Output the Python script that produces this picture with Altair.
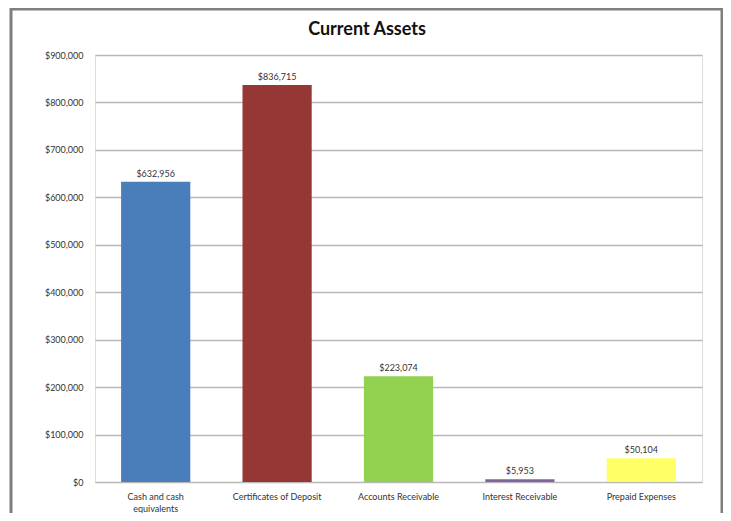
import altair as alt
import pandas as pd

title_text = "Current Assets"
categories = ["Cash and cash equivalents", "Certificates of Deposit", "Accounts Receivable",
              "Interest Receivable", "Prepaid Expenses"]
values = [632956, 836715, 223074, 5953, 50104]
colors = ["#4A7EBB", "#953735", "#92D050", "#8064A2", "#FFFF66"]
y_ticks = [0, 100000, 200000, 300000, 400000, 500000, 600000, 700000, 800000, 900000]

df = pd.DataFrame({"category": categories, "value": values})
df["label"] = df["value"].map(lambda v: "${:,}".format(v))

FONT = "Lato"

x_enc = alt.X("category:N", sort=categories, title=None,
              scale=alt.Scale(paddingInner=0.43, paddingOuter=0.215),
              axis=alt.Axis(labelAngle=0, ticks=False, domain=False, labelPadding=10,
                            labelFontSize=9, labelColor="#333333", labelFont=FONT,
                            labelLimit=200, labelLineHeight=12,
                            labelExpr="datum.label == 'Cash and cash equivalents' ? ['Cash and cash', 'equivalents'] : datum.label"))
y_enc = alt.Y("value:Q", title=None,
              scale=alt.Scale(domain=[0, 900000], nice=False),
              axis=alt.Axis(values=y_ticks, format="$,.0f", ticks=False, domain=False,
                            labelPadding=12, labelFontSize=9, labelColor="#333333",
                            labelFont=FONT, gridColor="#B8B8B8", gridWidth=1.6))

bars = alt.Chart(df).mark_bar().encode(
    x=x_enc,
    y=y_enc,
    color=alt.Color("category:N", sort=categories,
                    scale=alt.Scale(domain=categories, range=colors), legend=None),
)

text = alt.Chart(df).mark_text(dy=-8, fontSize=9, font=FONT, color="#333333").encode(
    x=alt.X("category:N", sort=categories),
    y="value:Q",
    text="label:N",
)

frame = alt.Chart(pd.DataFrame({"a": [0]})).mark_rect(
    fill=None, stroke="#7F7F7F", strokeWidth=3, clip=False
).encode(
    x=alt.value(-84), x2=alt.value(627), y=alt.value(-46), y2=alt.value(480)
)

title = alt.Chart(pd.DataFrame({"t": [title_text]})).mark_text(
    fontSize=18, font=FONT, fontWeight="bold", color="#111111", align="center", baseline="middle"
).encode(
    text="t:N", x=alt.value(272), y=alt.value(-25)
)

chart = alt.layer(frame, bars, text, title).properties(
    width=607, height=427,
    autosize=alt.AutoSizeParams(type="none"),
    padding={"left": 87, "top": 47, "right": 21, "bottom": 31},
).configure_view(stroke=None).configure(background="white")

chart.save("out.html", embed_options={"renderer": "svg", "actions": False})
